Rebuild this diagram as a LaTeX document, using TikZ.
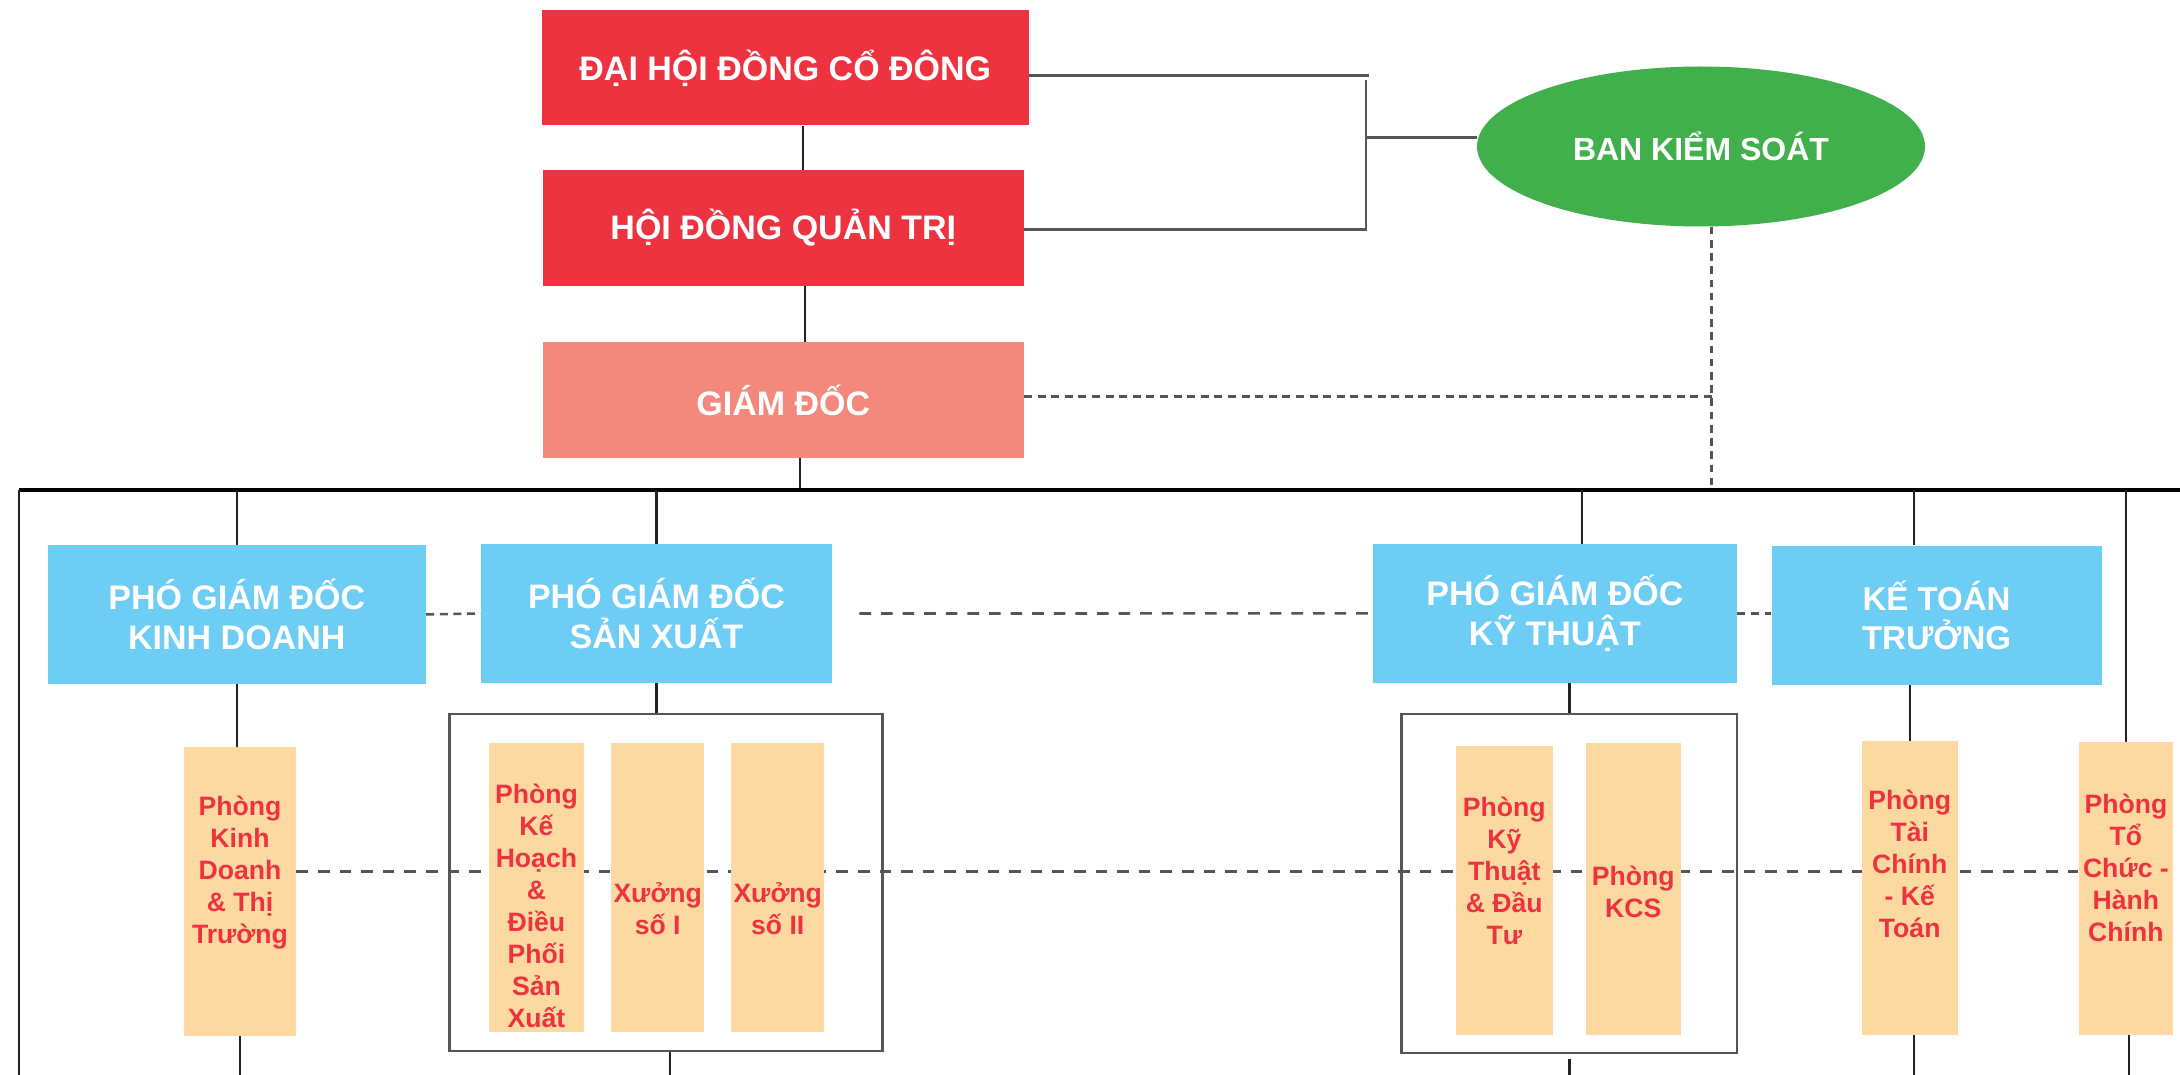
\documentclass[tikz,border=0pt]{standalone}
\usepackage{fontspec}
\setmainfont{Liberation Sans}
\usetikzlibrary{shapes.geometric,backgrounds}
\definecolor{cred}{HTML}{EC333F}
\definecolor{csalmon}{HTML}{F2897C}
\definecolor{cgreen}{HTML}{41AF4B}
\definecolor{cblue}{HTML}{6DCDF5}
\definecolor{corange}{HTML}{FCD9A1}
\definecolor{cgray}{HTML}{555555}
\definecolor{cline}{HTML}{222222}
\begin{document}
\begin{tikzpicture}[x=0.5pt,y=-0.5pt,
  sz/.style 2 args={minimum width=#1*0.5pt, minimum height=#2*0.5pt},
  redbox/.style={rectangle, fill=cred, draw=none, text=white, inner sep=0, font=\fontsize{17}{20}\selectfont\bfseries},
  gdbox/.style={redbox, fill=csalmon},
  gbox/.style={ellipse, fill=cgreen, draw=none, text=white, inner sep=0, minimum width=224pt, minimum height=80pt, font=\fontsize{16}{19}\selectfont\bfseries},
  bluebox/.style={rectangle, fill=cblue, draw=none, text=white, inner sep=0, align=center, font=\fontsize{17}{20}\selectfont\bfseries},
  obox/.style={rectangle, fill=corange, draw=none, inner sep=0},
  otext/.style={text=cred, align=center, inner sep=0, font=\fontsize{13.3}{16}\selectfont\bfseries},
  cont/.style={rectangle, draw=cgray, line width=1.3pt, fill=none, inner sep=0},
  tline/.style={draw=cline, line width=1.1pt},
  busline/.style={draw=black, line width=1.6pt},
  grayline/.style={draw=cgray, line width=1.3pt},
  dashA/.style={draw=cgray, line width=1.3pt, dash pattern=on 4pt off 2.8pt},
  dashB/.style={draw=cgray, line width=1.3pt, dash pattern=on 5.8pt off 5pt},
  dashV/.style={draw=cgray, line width=1.3pt, dash pattern=on 3.8pt off 2.8pt}
]
\useasboundingbox (0,0) rectangle (2180,1075);

% top level
\node[redbox, sz={487}{115}] (dh) at (785.3,68) {ĐẠI HỘI ĐỒNG CỔ ĐÔNG};
\node[redbox, sz={480.5}{115.7}] (hd) at (783.3,228) {HỘI ĐỒNG QUẢN TRỊ};
\node[gdbox, sz={480.5}{115.7}, text depth=-6pt] (gd) at (783.3,400) {GIÁM ĐỐC};
\node[gbox] (bks) at (1701,146.5) {BAN KIỂM SOÁT};

\coordinate (busL) at (19,490);
\coordinate (busR) at (2180,490);
\coordinate (bot) at (0,1075);
\coordinate (dl) at (0,871.3);

\draw[tline] ([xshift=9pt]dh.south) -- ([xshift=9pt]dh.south |- hd.north);
\draw[tline] ([xshift=11pt]hd.south) -- ([xshift=11pt]hd.south |- gd.north);
\draw[tline] ([xshift=8.5pt]gd.south) -- ([xshift=8.5pt]gd.south |- busL);
\draw[busline] (busL) -- (busR);
\draw[tline] (busL) -- (busL |- bot);

% bracket to Ban kiem soat
\coordinate (brt) at (1369,75.3);
\coordinate (brv) at (1366,80);
\coordinate (brb) at (1366,229.3);
\coordinate (brm) at (1366,137.7);
\draw[grayline] (dh.east |- brt) -- (brt);
\draw[grayline] (hd.east |- brb) -- (brb) -- (brv);
\draw[grayline] (brm) -- (brm -| bks.west);

% dashed from Ban kiem soat and Giam doc
\coordinate (gdd) at (1711.6,396.7);
\draw[dashV] ([xshift=5.3pt]bks.south) -- ([xshift=5.3pt]bks.south |- busL);
\draw[dashA] (gd.east |- gdd) -- (gdd);

% second level
\node[bluebox, sz={378}{139}] (pkd) at (236.8,614.4) {PHÓ GIÁM ĐỐC\\KINH DOANH};
\node[bluebox, sz={351}{139}] (psx) at (656.5,613.5) {PHÓ GIÁM ĐỐC\\SẢN XUẤT};
\node[bluebox, sz={364}{139}] (pkt) at (1554.9,613.4) {PHÓ GIÁM ĐỐC\\KỸ THUẬT};
\node[bluebox, sz={330}{139}, font=\fontsize{16.5}{19.5}\selectfont\bfseries] (ktt) at (1936.5,615.3) {KẾ TOÁN\\TRƯỞNG};

\draw[dashA] (pkd.east) -- (psx.west);
\draw[dashB] ([xshift=13.5pt]psx.east) -- (pkt.west);
\draw[dashA] (pkt.east) -- (ktt.west |- pkt.east);

% containers
\node[cont, sz={432.8}{337.2}] (csx) at (666.1,882.4) {};
\node[cont, sz={335.3}{339}] (ckt) at (1569.4,883.5) {};

% departments
\node[obox, sz={112}{288.6}] (pkdr) at (239.9,891.3) {};
\node[obox, sz={94.7}{288.8}] (pkh) at (536.4,887.4) {};
\node[obox, sz={93.3}{288.8}] (xs1) at (657.7,887.4) {};
\node[obox, sz={93.3}{288.8}] (xs2) at (777.7,887.4) {};
\node[obox, sz={96.5}{288.8}] (pktr) at (1504.3,890.4) {};
\node[obox, sz={94.6}{291.8}] (kcs) at (1633.3,888.9) {};
\node[obox, sz={95.7}{293.8}] (ptcr) at (1909.7,887.9) {};
\node[obox, sz={94.3}{292.8}] (ptchc) at (2125.9,888.4) {};

\node[otext] (t1) at (240,873) {Phòng\\Kinh\\Doanh\\\& Thị\\Trường};
\node[otext] (t2) at (536.4,906) {Phòng\\Kế\\Hoạch\\\&\\Điều\\Phối\\Sản\\Xuất};
\node[otext] (t3) at (657.7,909) {Xưởng\\số I};
\node[otext] (t4) at (777.7,909) {Xưởng\\số II};
\node[otext] (t5) at (1504.3,871) {Phòng\\Kỹ\\Thuật\\\& Đầu\\Tư};
\node[otext] (t6) at (1633.3,892) {Phòng\\KCS};
\node[otext] (t7) at (1909.7,863.5) {Phòng\\Tài\\Chính\\- Kế\\Toán};
\node[otext] (t8) at (2125.9,868) {Phòng\\Tổ\\Chức -\\Hành\\Chính};

\begin{scope}[on background layer]
\draw[dashB] (pkdr.east |- dl) -- (ptchc.west |- dl);
\end{scope}

% tree connectors
\draw[tline] (pkd.north) -- (pkd.north |- busL);
\draw[tline] (psx.north) -- (psx.north |- busL);
\draw[tline] ([xshift=13.5pt]pkt.north) -- ([xshift=13.5pt]pkt.north |- busL);
\draw[tline] ([xshift=-11.25pt]ktt.north) -- ([xshift=-11.25pt]ktt.north |- busL);
\draw[tline] (ptchc.north) -- (ptchc.north |- busL);

\draw[tline] (pkd.south) -- (pkd.south |- pkdr.north);
\draw[tline] (psx.south) -- (psx.south |- csx.north);
\draw[tline] (ckt.north) -- (ckt.north |- pkt.south);
\draw[tline] (ptcr.north) -- (ptcr.north |- ktt.south);

\draw[tline] (pkdr.south) -- (pkdr.south |- bot);
\draw[tline] ([xshift=2pt]csx.south) -- ([xshift=2pt]csx.south |- bot);
\draw[tline] ([yshift=-2.3pt]ckt.south) -- ([yshift=-2.3pt]ckt.south |- bot);
\draw[tline] ([xshift=2pt]ptcr.south) -- ([xshift=2pt]ptcr.south |- bot);
\draw[tline] ([xshift=1.5pt]ptchc.south) -- ([xshift=1.5pt]ptchc.south |- bot);
\end{tikzpicture}
\end{document}
